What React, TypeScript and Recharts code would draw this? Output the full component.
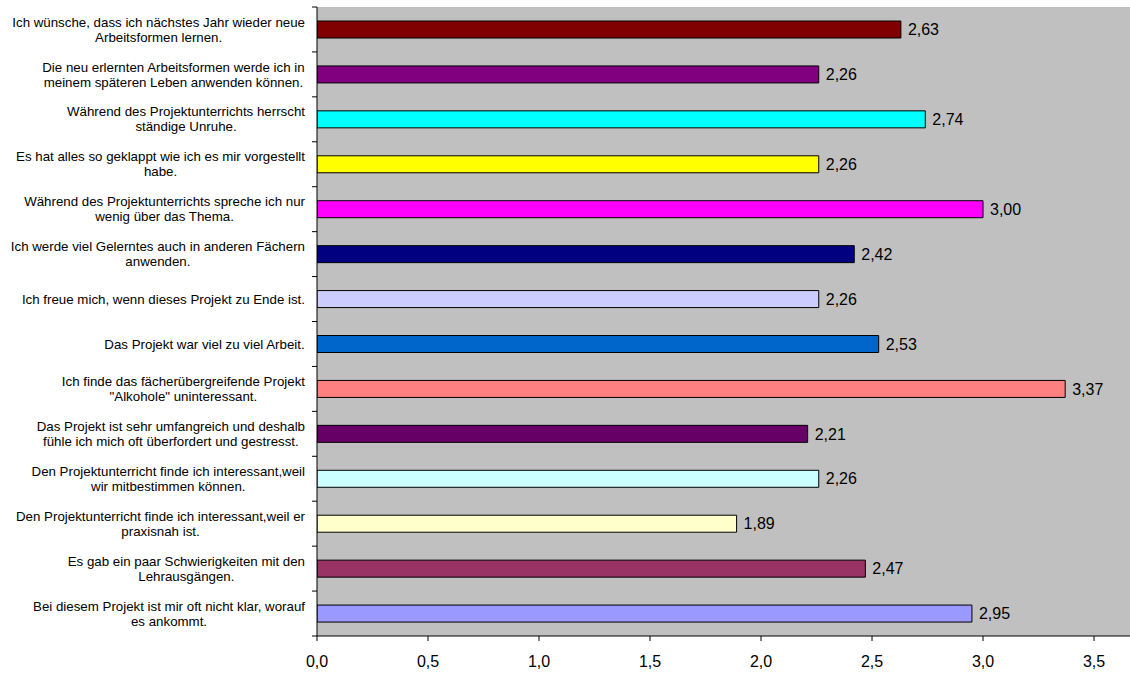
import React from 'react';
import { BarChart, Bar, XAxis, YAxis, CartesianGrid, Cell, LabelList } from 'recharts';

const categories = [
  'Ich wünsche, dass ich nächstes Jahr wieder neue\nArbeitsformen lernen.',
  'Die neu erlernten Arbeitsformen werde ich in\nmeinem späteren Leben anwenden können.',
  'Während des Projektunterrichts herrscht\nständige Unruhe.',
  'Es hat alles so geklappt wie ich es mir vorgestellt\nhabe.',
  'Während des Projektunterrichts spreche ich nur\nwenig über das Thema.',
  'Ich werde viel Gelerntes auch in anderen Fächern\nanwenden.',
  'Ich freue mich, wenn dieses Projekt zu Ende ist.',
  'Das Projekt war viel zu viel Arbeit.',
  'Ich finde das fächerübergreifende Projekt\n"Alkohole" uninteressant.',
  'Das Projekt ist sehr umfangreich und deshalb\nfühle ich mich oft überfordert und gestresst.',
  'Den Projektunterricht finde ich interessant,weil\nwir mitbestimmen können.',
  'Den Projektunterricht finde ich interessant,weil er\npraxisnah ist.',
  'Es gab ein paar Schwierigkeiten mit den\nLehrausgängen.',
  'Bei diesem Projekt ist mir oft nicht klar, worauf\nes ankommt.',
];

const values = [2.63, 2.26, 2.74, 2.26, 3.0, 2.42, 2.26, 2.53, 3.37, 2.21, 2.26, 1.89, 2.47, 2.95];

const barColors = [
  '#800000', '#800080', '#00ffff', '#ffff00', '#ff00ff', '#000080', '#ccccff',
  '#0066cc', '#ff8080', '#660066', '#ccffff', '#ffffcc', '#993366', '#9999ff',
];

const xTicks = [0, 0.5, 1, 1.5, 2, 2.5, 3, 3.5];

const data = categories.map((name, i) => ({ name, value: values[i] }));

const W = 1130;
const H = 675;
const TOP = 7;
const AXIS_W = 317;
const X_AXIS_H = 39;
const BAND = (H - TOP - X_AXIS_H) / categories.length;
const FONT = "'Liberation Sans', Arial, sans-serif";
const CAT_FS = 13.3;

let ctx: CanvasRenderingContext2D | null = null;
const textWidth = (s: string) => {
  if (!ctx) ctx = document.createElement('canvas').getContext('2d');
  if (!ctx) return s.length * 7;
  ctx.font = `${CAT_FS}px ${FONT}`;
  return ctx.measureText(s).width;
};

const fmt = (v: any) => Number(v).toFixed(2).replace('.', ',');

const CategoryTick = (props: any) => {
  const { y, payload, index } = props;
  const lines = String(payload.value).split('\n');
  const w = Math.max(...lines.map(textWidth));
  const cx = 305 - w / 2;
  const lh = 15;
  const y0 = y - ((lines.length - 1) * lh) / 2;
  return (
    <g>
      <line x1={AXIS_W - 5} x2={AXIS_W} y1={y - BAND / 2} y2={y - BAND / 2} stroke="#000" />
      {index === categories.length - 1 && (
        <line x1={AXIS_W - 5} x2={AXIS_W} y1={y + BAND / 2} y2={y + BAND / 2} stroke="#000" />
      )}
      <text textAnchor="middle" fontSize={CAT_FS} fontFamily={FONT} fill="#000">
        {lines.map((l, i) => (
          <tspan key={i} x={cx} y={y0 + i * lh} dy="0.35em">
            {l}
          </tspan>
        ))}
      </text>
    </g>
  );
};

export default function App() {
  return (
    <div style={{ position: 'fixed', left: 0, top: 0, width: W, height: H, background: '#fff' }}>
      <BarChart
        width={W}
        height={H}
        data={data}
        layout="vertical"
        margin={{ top: TOP, right: 0, bottom: 0, left: 0 }}
        barSize={17}
      >
        <CartesianGrid fill="#c0c0c0" horizontal={false} vertical={false} />
        <XAxis
          type="number"
          domain={[0, 3.662]}
          ticks={xTicks}
          allowDataOverflow
          height={X_AXIS_H}
          axisLine={{ stroke: '#000' }}
          tickLine={{ stroke: '#000' }}
          tickSize={5}
          tickMargin={15}
          tickFormatter={(v: number) => v.toFixed(1).replace('.', ',')}
          tick={{ fontSize: 16, fill: '#000', fontFamily: FONT }}
        />
        <XAxis
          xAxisId="top"
          orientation="top"
          type="number"
          domain={[0, 3.662]}
          height={0}
          tick={false}
          tickLine={false}
          axisLine={{ stroke: '#808080' }}
        />
        <YAxis
          type="category"
          dataKey="name"
          width={AXIS_W}
          axisLine={{ stroke: '#000' }}
          tickLine={false}
          interval={0}
          tick={<CategoryTick />}
        />
        <Bar dataKey="value" stroke="#000" strokeWidth={1} isAnimationActive={false}>
          {data.map((d, i) => (
            <Cell key={d.name} fill={barColors[i]} />
          ))}
          <LabelList
            dataKey="value"
            position="right"
            offset={7}
            formatter={fmt}
            style={{ fontSize: 16, fill: '#000', fontFamily: FONT }}
          />
        </Bar>
      </BarChart>
    </div>
  );
}
